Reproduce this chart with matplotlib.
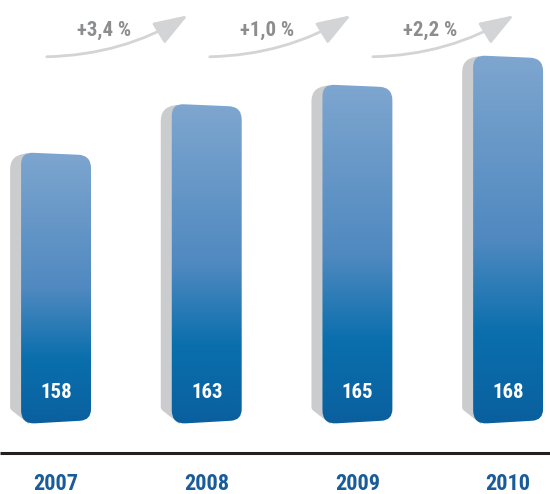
import numpy as np
import matplotlib
matplotlib.use("Agg")
import matplotlib.pyplot as plt
from matplotlib.path import Path
from matplotlib.patches import PathPatch, FancyArrowPatch, ArrowStyle
from matplotlib.colors import LinearSegmentedColormap
from matplotlib.transforms import IdentityTransform, blended_transform_factory

years = ["2007", "2008", "2009", "2010"]
values = [158, 163, 165, 168]
growth = ["+3,4 %", "+1,0 %", "+2,2 %"]

BASE = 130.4

plt.rcParams["font.family"] = ["Roboto Condensed", "Roboto", "DejaVu Sans"]

bar_cmap = LinearSegmentedColormap.from_list(
    "bar", [(0.0, "#80a7d0"), (0.5, "#4f89c0"), (0.74, "#0a6fad"), (1.0, "#0a5e9d")])


def rounded_path(points, radii):
    verts, codes = [], []
    n = len(points)
    for k in range(n):
        p = np.array(points[k], float)
        a = np.array(points[k - 1], float)
        b = np.array(points[(k + 1) % n], float)
        r = radii[k]
        p1 = p + r * (a - p) / np.linalg.norm(a - p)
        p2 = p + r * (b - p) / np.linalg.norm(b - p)
        verts += [p1, p, p2]
        codes += [Path.LINETO if k else Path.MOVETO, Path.CURVE3, Path.CURVE3]
    verts.append(verts[0])
    codes.append(Path.CLOSEPOLY)
    return Path(verts, codes)


fig = plt.figure(figsize=(5.5, 4.94), dpi=100)
ax = fig.add_axes([0, 0, 1, 1])
ax.set_xlim(-0.372, 3.278)
ax.set_ylim(123.1, 174.0)
ax.set_autoscale_on(False)
ax.axis("off")

half = 0.232
ident = IdentityTransform()
for i, v in enumerate(values):
    x0, top = ax.transData.transform((i - half, v))
    x1, bot = ax.transData.transform((i + half, BASE))

    # grey side face
    side = rounded_path([(x0 + 6, top + 2), (x0 - 11, top - 1), (x0 - 11, bot + 14), (x0 + 8, bot - 1)],
                        [0, 13, 2, 0])
    ax.add_patch(PathPatch(side, facecolor="#cbcccd", edgecolor="none", transform=ident, zorder=1))

    # front face with gradient
    front = rounded_path([(x0, top + 3), (x1, top), (x1, bot + 3), (x0, bot - 1)], [12, 13, 11, 14])
    clip = PathPatch(front, transform=ident)
    grad = np.linspace(0, 1, 256).reshape(-1, 1)
    im = ax.imshow(grad, cmap=bar_cmap, aspect="auto", origin="upper",
                   extent=[i - 0.3, i + 0.3, BASE - 1, v + 1], zorder=2)
    im.set_clip_path(clip)

    ax.text(i, 133.6, str(v), color="white", fontsize=15, fontweight="bold",
            ha="center", va="center", zorder=3)

mixed = blended_transform_factory(ax.transData, ax.transAxes)

for i, txt in enumerate(growth):
    xs = -0.08 + 1.082 * i
    arrow = FancyArrowPatch((xs, 0.885), (xs + 0.97, 0.972), transform=mixed,
                            connectionstyle="arc3,rad=0.14",
                            arrowstyle=ArrowStyle("-|>", head_length=1.05, head_width=0.37),
                            mutation_scale=20, color="#d3d4d5", lw=2.0, zorder=1)
    ax.add_patch(arrow)
    ax.text(xs + 0.4, 0.938, txt, transform=mixed, color="#8b8d8f", fontsize=15,
            fontweight="bold", ha="center", va="center")

ax.plot([0, 1], [41 / 494, 41 / 494], transform=ax.transAxes, color="#231f20", lw=2.2,
        solid_capstyle="butt")

for i, y in enumerate(years):
    ax.text(i, 0.021, y, transform=mixed, color="#1a5c9a", fontsize=16,
            fontweight="bold", ha="center", va="center")

fig.savefig("out.png", dpi=100)
